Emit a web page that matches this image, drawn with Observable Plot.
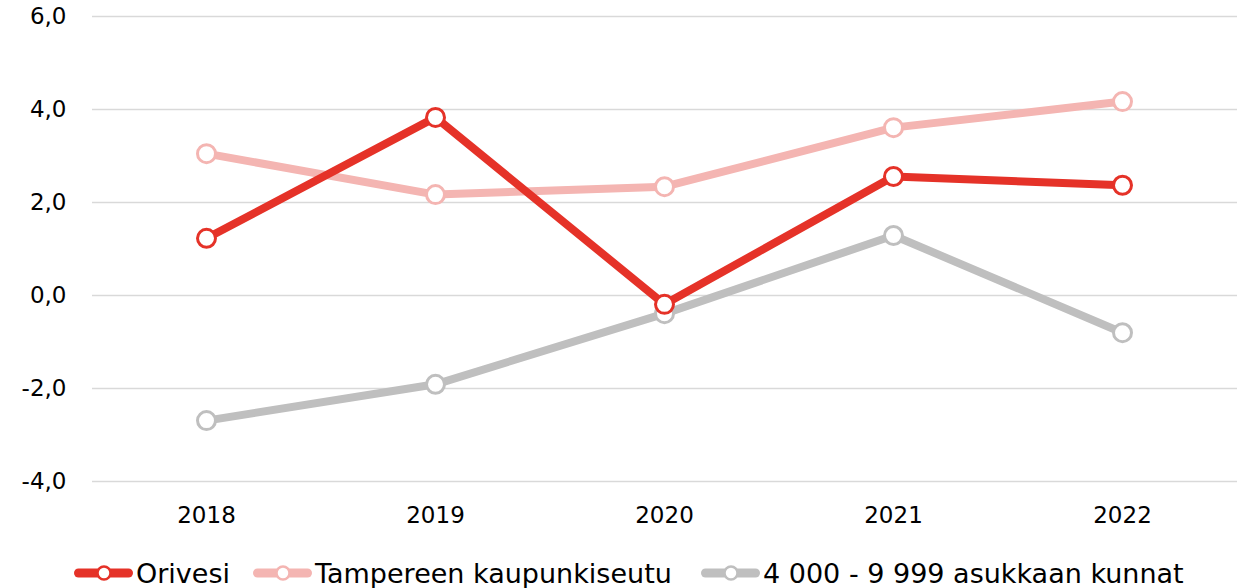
<!DOCTYPE html>
<html>
<head>
<meta charset="utf-8">
<script src="https://cdn.jsdelivr.net/npm/d3@7"></script>
<script src="https://cdn.jsdelivr.net/npm/@observablehq/plot@0.6"></script>
<style>
  body { margin: 0; background: #fff; font-family: "DejaVu Sans", sans-serif; }
  #chart { position: relative; width: 1246px; height: 588px; }
  .legend { position: absolute; top: 556px; left: 0; width: 1246px; height: 34px; }
  .item { position: absolute; top: 0; height: 34px; display: flex; align-items: center; font-size: 27px; color: #000; white-space: nowrap; }
  .item svg { margin-right: 3px; }
</style>
</head>
<body>
<div id="chart"></div>
<script>
const years = ["2018", "2019", "2020", "2021", "2022"];
const seriesNames = ["Orivesi", "Tampereen kaupunkiseutu", "4 000 - 9 999 asukkaan kunnat"];
const orivesi = [1.23, 3.83, -0.19, 2.56, 2.37];
const tampereenSeutu = [3.05, 2.17, 2.34, 3.61, 4.17];
const kunnat4000 = [-2.69, -1.91, -0.39, 1.29, -0.80];
const yTicks = [-4, -2, 0, 2, 4, 6];
const colors = ["#e53228", "#f4b5b2", "#bfbfbf"];

const allValues = [orivesi, tampereenSeutu, kunnat4000];
const data = [];
// draw order: gray first, then light pink, then red on top
[2, 1, 0].forEach(si => {
  years.forEach((y, i) => data.push({ year: y, value: allValues[si][i], series: seriesNames[si] }));
});

const fmt = d => d.toFixed(1).replace(".", ",");

const plot = Plot.plot({
  width: 1246,
  height: 540,
  marginLeft: 90,
  marginRight: 9,
  marginTop: 16,
  marginBottom: 59,
  style: { fontFamily: "DejaVu Sans, sans-serif", fontSize: "23px", color: "#000", background: "#fff" },
  x: { type: "point", domain: years, padding: 0.5, label: null },
  y: { domain: [-4, 6], label: null },
  color: { domain: seriesNames, range: colors },
  marks: [
    Plot.ruleY(yTicks, { stroke: "#d9d9d9", strokeWidth: 1.5, insetLeft: 2 }),
    Plot.axisY({ ticks: yTicks, tickFormat: fmt, tickSize: 0, tickPadding: 24, fontSize: 23 }),
    Plot.axisX({ tickSize: 0, tickPadding: 25, fontSize: 23 }),
    Plot.line(data, { x: "year", y: "value", z: "series", stroke: "series", strokeWidth: 8, strokeLinejoin: "round", strokeLinecap: "butt" }),
    Plot.dot(data, { x: "year", y: "value", stroke: "series", fill: "white", r: 9, strokeWidth: 3 })
  ]
});
document.getElementById("chart").appendChild(plot);

// Legend below the chart
const legend = document.createElement("div");
legend.className = "legend";
const legendLefts = [74, 253, 701];
seriesNames.forEach((name, i) => {
  const item = document.createElement("div");
  item.className = "item";
  item.style.left = legendLefts[i] + "px";
  item.innerHTML = `<svg width="59" height="24" viewBox="0 0 59 24">
      <line x1="4.5" y1="12" x2="54.5" y2="12" stroke="${colors[i]}" stroke-width="9" stroke-linecap="round"/>
      <circle cx="30" cy="12" r="6.5" fill="white" stroke="${colors[i]}" stroke-width="2.5"/>
    </svg><span>${name}</span>`;
  legend.appendChild(item);
});
document.getElementById("chart").appendChild(legend);
</script>
</body>
</html>
